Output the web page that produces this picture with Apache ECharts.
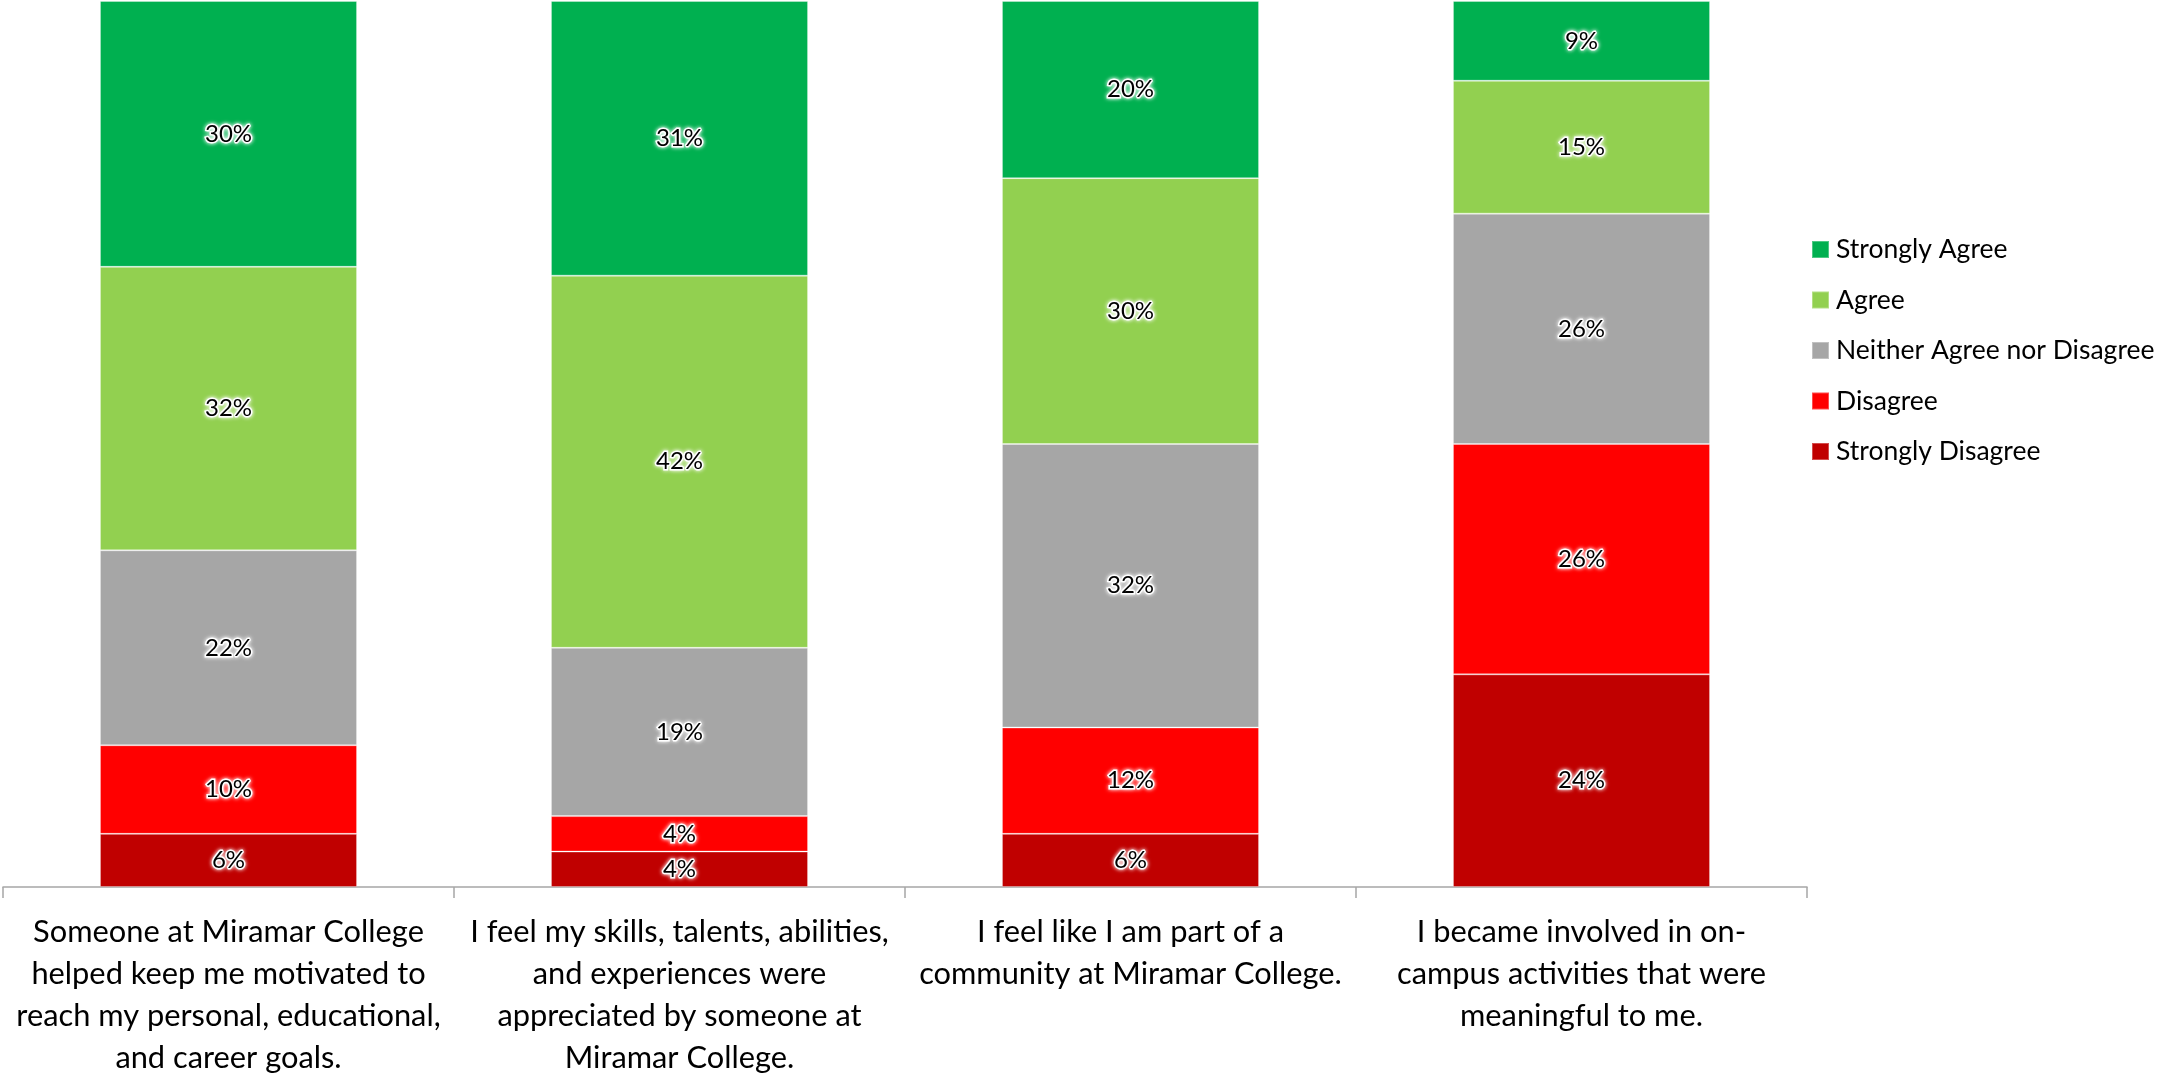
<!DOCTYPE html>
<html>
<head>
<meta charset="utf-8">
<script src="https://cdn.jsdelivr.net/npm/echarts@6/dist/echarts.min.js"></script>
<style>
  html, body { margin: 0; padding: 0; background: #ffffff; }
  #chart { width: 2162px; height: 1076px; }
</style>
</head>
<body>
<div id="chart"></div>
<script>
// Survey statements (category axis)
const categories = [
  'Someone at Miramar College\nhelped keep me motivated to\nreach my personal, educational,\nand career goals.',
  'I feel my skills, talents, abilities,\nand experiences were\nappreciated by someone at\nMiramar College.',
  'I feel like I am part of a\ncommunity at Miramar College.',
  'I became involved in on-\ncampus activities that were\nmeaningful to me.'
];

// Response shares (%) per statement
const stronglyDisagree = [6, 4, 6, 24];
const disagree = [10, 4, 12, 26];
const neither = [22, 19, 32, 26];
const agree = [32, 42, 30, 15];
const stronglyAgree = [30, 31, 20, 9];

const seriesDefs = [
  { name: 'Strongly Disagree', data: stronglyDisagree, color: '#C00000' },
  { name: 'Disagree', data: disagree, color: '#FF0000' },
  { name: 'Neither Agree nor Disagree', data: neither, color: '#A6A6A6' },
  { name: 'Agree', data: agree, color: '#92D050' },
  { name: 'Strongly Agree', data: stronglyAgree, color: '#00B050' }
];

const FONT = 'Lato, "Open Sans", sans-serif';

const chart = echarts.init(document.getElementById('chart'), null, { renderer: 'canvas' });

chart.setOption({
  animation: false,
  backgroundColor: '#ffffff',
  grid: { left: 3, right: 355, top: 1, bottom: 189, containLabel: false, outerBoundsMode: 'none' },
  legend: {
    orient: 'vertical',
    left: 1806,
    top: 231,
    itemWidth: 17,
    itemHeight: 17,
    itemGap: 23.5,
    icon: 'rect',
    data: ['Strongly Agree', 'Agree', 'Neither Agree nor Disagree', 'Disagree', 'Strongly Disagree'],
    textStyle: { fontFamily: FONT, fontSize: 26.5, color: '#000', lineHeight: 26, padding: [0, 0, 0, 2] }
  },
  xAxis: {
    type: 'category',
    data: categories,
    axisLine: { lineStyle: { color: '#A6A6A6', width: 1.5 } },
    axisTick: { show: true, length: 11, alignWithLabel: false, lineStyle: { color: '#A6A6A6', width: 1.5 } },
    axisLabel: {
      interval: 0,
      margin: 24,
      fontFamily: FONT,
      fontSize: 30.8,
      lineHeight: 42,
      color: '#000',
      align: 'center'
    }
  },
  yAxis: {
    type: 'value',
    min: 0,
    max: 100,
    show: false,
    splitLine: { show: false }
  },
  series: seriesDefs.map(s => ({
    name: s.name,
    type: 'bar',
    stack: 'total',
    data: s.data,
    barWidth: '57%',
    itemStyle: { color: s.color, borderColor: 'rgba(255,255,255,0.3)', borderWidth: 1 },
    label: {
      show: true,
      position: 'inside',
      formatter: '{c}%',
      fontFamily: FONT,
      fontSize: 24,
      color: '#000',
      textBorderColor: '#ffffff',
      textBorderWidth: 3,
      textShadowColor: '#ffffff',
      textShadowBlur: 4
    }
  }))
});
</script>
</body>
</html>
